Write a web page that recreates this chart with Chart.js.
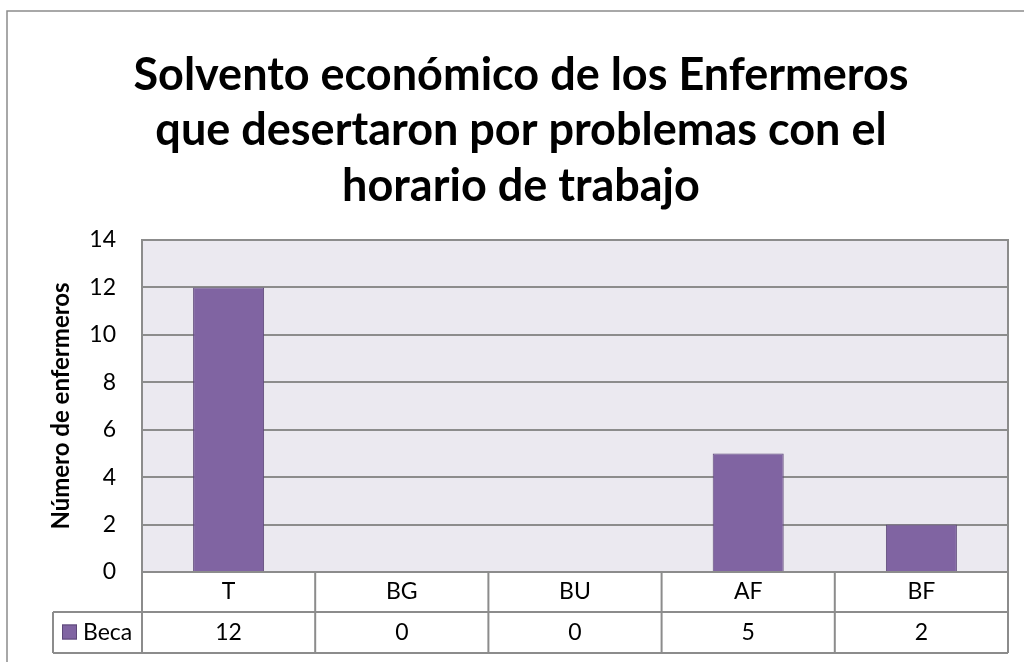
<!DOCTYPE html>
<html lang="es">
<head>
<meta charset="utf-8">
<title>Solvento económico de los Enfermeros</title>
<script src="https://cdn.jsdelivr.net/npm/chart.js@4/dist/chart.umd.min.js"></script>
<style>
  html, body { margin: 0; padding: 0; background: #ffffff; }
  #wrap { position: relative; width: 1024px; height: 662px; }
</style>
</head>
<body>
<div id="wrap"><canvas id="chart" width="1024" height="662"></canvas></div>
<script>
// Categories, series and axis text
const categories = ['T', 'BG', 'BU', 'AF', 'BF'];
const seriesName = 'Beca';
const becaValues = [12, 0, 0, 5, 2];
const titleLines = [
  'Solvento económico de los Enfermeros',
  'que desertaron por problemas con el',
  'horario de trabajo'
];
const yAxisTitle = 'Número de enfermeros';

const FONT = 'Lato, "Open Sans", "Liberation Sans", sans-serif';
const TEXT_SIZE = 23;
const BAR_FILL = '#8064a2';
const BAR_EDGE = '#5d4878';
const LINE = '#8c8c8c';
const PLOT_BG = '#ebe9f0';

// Plot background, frame and the data table beneath the axis
const tablePlugin = {
  id: 'dataTable',
  beforeDraw(chart) {
    const { ctx, chartArea: a } = chart;
    ctx.save();
    ctx.fillStyle = PLOT_BG;
    ctx.fillRect(a.left, a.top, a.right - a.left, a.bottom - a.top);
    ctx.restore();
  },
  afterDraw(chart) {
    const { ctx, chartArea: a } = chart;
    const x = chart.scales.x;
    const n = categories.length;
    const half = (a.right - a.left) / n / 2;
    const row1 = a.bottom;
    const row2 = a.bottom + 40;
    const row3 = a.bottom + 81;
    const legendLeft = 53;

    ctx.save();
    // outer chart frame
    ctx.strokeStyle = LINE;
    ctx.lineWidth = 1.5;
    ctx.beginPath();
    ctx.moveTo(7, chart.height);
    ctx.lineTo(7, 11);
    ctx.lineTo(chart.width, 11);
    ctx.stroke();

    // plot border + table grid
    ctx.lineWidth = 2;
    ctx.beginPath();
    ctx.moveTo(a.left, row2);
    ctx.lineTo(a.left, a.top);
    ctx.lineTo(a.right, a.top);
    ctx.lineTo(a.right, row3);
    ctx.moveTo(a.left, row1);
    ctx.lineTo(a.right, row1);
    ctx.moveTo(legendLeft, row2);
    ctx.lineTo(a.right, row2);
    ctx.moveTo(legendLeft, row3);
    ctx.lineTo(a.right, row3);
    ctx.moveTo(legendLeft, row2);
    ctx.lineTo(legendLeft, row3);
    for (let i = 0; i < n; i++) {
      const left = x.getPixelForValue(i) - half;
      ctx.moveTo(left, row1);
      ctx.lineTo(left, row3);
    }
    ctx.stroke();

    // legend key
    const midY = (row2 + row3) / 2;
    ctx.fillStyle = BAR_FILL;
    ctx.fillRect(62, midY - 8, 15, 15);
    ctx.strokeStyle = BAR_EDGE;
    ctx.lineWidth = 1;
    ctx.strokeRect(62.5, midY - 7.5, 14, 14);
    ctx.fillStyle = '#000';
    ctx.font = TEXT_SIZE + 'px ' + FONT;
    ctx.textBaseline = 'middle';
    ctx.textAlign = 'left';
    ctx.fillText(seriesName, 83, midY);

    // values row
    ctx.textAlign = 'center';
    becaValues.forEach((v, i) => {
      ctx.fillText(String(v), x.getPixelForValue(i), midY);
    });
    ctx.restore();
  }
};

new Chart(document.getElementById('chart'), {
  type: 'bar',
  data: {
    labels: categories,
    datasets: [{
      label: seriesName,
      data: becaValues,
      backgroundColor: BAR_FILL,
      borderColor: BAR_EDGE,
      borderWidth: 1,
      categoryPercentage: 1,
      barPercentage: 0.41
    }]
  },
  options: {
    responsive: false,
    animation: false,
    layout: { padding: { left: 34, right: 16, top: 0, bottom: 9 } },
    plugins: {
      legend: { display: false },
      tooltip: { enabled: false },
      title: {
        display: true,
        text: titleLines,
        color: '#000',
        font: { family: FONT, size: 45, weight: 'bold', lineHeight: 1.244 },
        padding: { top: 47, bottom: 25 }
      }
    },
    scales: {
      x: {
        grid: { display: false, drawTicks: false },
        border: { display: false },
        ticks: { color: '#000', font: { family: FONT, size: TEXT_SIZE, lineHeight: 1.2 }, padding: 6 },
        afterFit(scale) { scale.height = 81; }
      },
      y: {
        min: 0,
        max: 14,
        ticks: { stepSize: 2, color: '#000', font: { family: FONT, size: TEXT_SIZE }, padding: 26 },
        grid: { color: LINE, lineWidth: 2, drawTicks: false },
        border: { display: false },
        title: {
          display: true,
          text: yAxisTitle,
          color: '#000',
          font: { family: FONT, size: 24, weight: 'bold', lineHeight: 1.2 },
          padding: { top: 13, bottom: 0 }
        },
        afterFit(scale) { scale.width = 108; }
      }
    }
  },
  plugins: [tablePlugin]
});
</script>
</body>
</html>
